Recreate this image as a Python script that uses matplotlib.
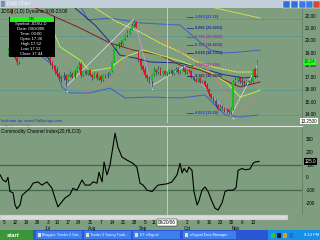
import matplotlib

matplotlib.use("Agg")
import matplotlib.pyplot as plt  # noqa: E402
from matplotlib.patches import Rectangle  # noqa: E402
from matplotlib.transforms import blended_transform_factory  # noqa: E402

plt.rcParams["font.family"] = ["Liberation Sans", "DejaVu Sans"]

# ---- data: x = trading-day index counted from 1 Jun 2006 (first bar is day 4) ----
FIRST_DAY = 4
opens = [
    18.9, 19.2, 19.0, 18.8, 18.6, 18.2,
    18.7, 19.0, 19.3, 19.0, 19.2, 19.4, 19.1, 18.9, 19.1, 19.3,
    19.0, 18.9, 18.8, 18.6, 18.2, 17.9, 17.5, 17.3, 17.0, 16.9,
    17.2, 16.8, 17.1, 17.3, 17.0, 17.5, 17.8, 18.1, 17.2, 17.5,
    17.3, 17.6, 17.2, 17.0, 17.3, 16.9, 17.1, 16.8, 17.2, 17.0,
    17.3, 17.5, 18.3, 19.3, 19.6, 19.8, 19.7, 20.1, 20.4, 20.6,
    20.9, 21.3, 21.5, 19.0, 18.4, 17.9, 17.6, 17.2, 16.9, 16.7,
    17.2, 17.6, 17.4, 17.7, 17.3, 17.5, 17.36, 17.44, 17.6, 17.3,
    17.5, 17.7, 17.4, 17.6, 17.7, 17.4, 17.6, 17.5, 17.0, 16.8,
    16.7, 16.9, 16.6, 16.7, 16.4, 16.0, 15.6, 15.3, 15.1, 14.7,
    14.4, 14.6, 14.5, 14.4, 14.3, 14.2, 14.4, 16.6, 16.8, 16.9,
    16.7, 16.6, 16.5, 16.7, 16.6, 16.7, 17.7, 17.1,
]
highs = [
    19.4, 19.3, 19.1, 18.9, 18.7, 18.8,
    19.1, 19.4, 19.4, 19.3, 19.6, 19.5, 19.2, 19.2, 19.4, 19.4,
    19.1, 19.0, 18.9, 18.7, 18.3, 18.0, 17.8, 17.4, 17.2, 17.4,
    17.3, 17.3, 17.5, 17.4, 17.6, 17.9, 18.2, 18.2, 17.6, 17.6,
    17.7, 17.7, 17.3, 17.4, 17.4, 17.2, 17.2, 17.3, 17.3, 17.4,
    17.5, 18.3, 19.4, 19.7, 19.9, 20.0, 20.1, 20.5, 20.8, 21.0,
    21.4, 21.72, 21.6, 19.2, 18.6, 18.0, 17.8, 17.3, 17.1, 17.3,
    17.8, 17.7, 17.9, 17.8, 17.6, 17.6, 17.52, 17.7, 17.65, 17.6,
    17.8, 17.8, 17.7, 17.9, 17.8, 17.7, 17.7, 17.6, 17.1, 17.0,
    17.0, 17.0, 16.8, 16.8, 16.5, 16.1, 15.7, 15.5, 15.2, 14.8,
    14.8, 14.7, 14.6, 14.5, 14.4, 14.6, 16.8, 17.0, 17.1, 17.0,
    16.9, 16.8, 16.8, 16.8, 16.9, 17.7, 17.8, 18.4,
]
lows = [
    18.8, 18.9, 18.7, 18.5, 18.0, 18.1,
    18.6, 18.9, 18.9, 18.9, 19.1, 19.0, 18.8, 18.8, 19.0, 18.9,
    18.8, 18.6, 18.4, 18.0, 17.7, 17.3, 17.1, 16.8, 16.6, 16.8,
    16.2, 16.7, 17.0, 16.9, 16.9, 17.4, 17.7, 17.0, 17.1, 17.2,
    17.2, 17.1, 16.8, 16.9, 16.8, 16.8, 16.6, 16.7, 16.9, 16.9,
    17.2, 17.4, 18.2, 19.2, 19.4, 19.5, 19.6, 20.0, 20.3, 20.5,
    20.8, 21.1, 21.0, 18.2, 17.7, 17.4, 17.0, 16.7, 16.5, 16.3,
    17.1, 17.2, 17.3, 17.2, 17.2, 17.2, 17.12, 17.3, 17.2, 17.2,
    17.4, 17.3, 17.3, 17.5, 17.3, 17.3, 17.4, 16.9, 16.7, 16.6,
    16.6, 16.5, 16.5, 16.3, 15.9, 15.5, 15.2, 15.0, 14.6, 14.3,
    14.3, 14.3, 14.2, 14.1, 14.0, 13.89, 14.3, 16.4, 16.6, 16.5,
    16.4, 16.3, 16.4, 16.5, 16.5, 16.6, 16.9, 17.0,
]
closes = [
    19.2, 19.0, 18.8, 18.6, 18.2, 18.7,
    19.0, 19.3, 19.0, 19.2, 19.4, 19.1, 18.9, 19.1, 19.3, 19.0,
    18.9, 18.8, 18.6, 18.2, 17.9, 17.5, 17.3, 17.0, 16.9, 17.2,
    16.8, 17.1, 17.3, 17.0, 17.5, 17.8, 18.0, 17.2, 17.5, 17.3,
    17.6, 17.2, 17.0, 17.3, 16.9, 17.1, 16.8, 17.2, 17.0, 17.3,
    17.4, 18.2, 19.3, 19.5, 19.8, 19.7, 20.0, 20.4, 20.6, 20.8,
    21.2, 21.5, 21.1, 18.4, 17.9, 17.6, 17.2, 16.9, 16.7, 17.2,
    17.6, 17.4, 17.7, 17.3, 17.5, 17.3, 17.44, 17.6, 17.3, 17.5,
    17.7, 17.4, 17.6, 17.7, 17.4, 17.6, 17.5, 17.0, 16.8, 16.7,
    16.9, 16.6, 16.7, 16.4, 16.0, 15.6, 15.3, 15.1, 14.7, 14.4,
    14.6, 14.5, 14.4, 14.3, 14.2, 14.4, 16.6, 16.8, 16.9, 16.7,
    16.6, 16.5, 16.7, 16.6, 16.7, 17.6, 17.1, 18.2,
]
days = list(range(FIRST_DAY, FIRST_DAY + len(closes)))

# overlay studies as (day, price) anchor points
upper_band_d = [36.5, 40.1, 50.1, 63.7, 81.9, 88.7, 95.5, 102.3, 109.1, 118.2]
upper_band_p = [22.87, 21.65, 21.81, 21.41, 21.24, 20.19, 19.21, 18.97, 19.05, 19.21]
lower_band_d = [18.3, 25.1, 28.3, 31.9, 41.0, 50.1, 56.9, 68.2, 81.9, 93.2, 97.7, 102.3, 109.1, 117.2]
lower_band_p = [18.8, 17.83, 16.2, 15.72, 15.72, 16.12, 15.31, 15.39, 15.31, 15.55, 14.74, 13.93, 13.76, 13.93]
blue_ma_d = [34.2, 43.3, 50.1, 54.6, 61.4, 68.2, 81.9, 90.9, 102.3, 111.3, 117.2]
blue_ma_p = [22.63, 21.24, 19.86, 18.80, 18.56, 18.24, 18.15, 17.75, 17.18, 16.93, 17.10]
red_ma_d = [15.2, 36.5, 50.1, 60.5, 72.8, 81.9, 90.9, 100.0, 109.1, 118.2]
red_ma_p = [22.71, 21.0, 19.78, 19.21, 18.80, 17.99, 17.59, 16.93, 16.20, 16.61]
yellow_ma_d = [43.3, 53.3, 63.7, 72.8, 81.9, 89.6, 98.6, 107.7, 117.2]
yellow_ma_p = [22.63, 21.49, 20.67, 19.78, 19.05, 18.24, 17.75, 17.42, 17.42]
olive_ma_d = [97.7, 118.2]
olive_ma_p = [22.63, 21.81]
lime_ma_d = [25.1, 27.4, 36.5, 41.0, 50.1, 56.0, 65.1, 72.8, 81.9, 95.5, 103.2, 109.1, 115.0, 118.2]
lime_ma_p = [20.43, 19.46, 18.40, 17.50, 17.75, 18.56, 19.21, 18.80, 18.32, 17.42, 16.53, 15.39, 15.72, 15.96]
sar_segments = [
    ([11.5, 20.6, 27.4, 31.9], [21.65, 20.02, 18.80, 18.24]),
    ([36.5, 45.6, 52.4, 56.9, 60.1], [15.80, 16.12, 16.93, 18.40, 19.78]),
    ([62.8, 72.8, 81.9, 88.7, 95.5, 100.9, 104.5], [21.41, 20.19, 19.05, 18.56, 17.42, 16.12, 15.31]),
    ([107.3, 111.3, 117.2], [13.68, 14.50, 15.55]),
]
zigzag_up = [([30, 61], [16.2, 21.72]), ([69, 84], [16.3, 17.9]), ([105, 117], [13.89, 18.0])]
zigzag_down = [([61, 69], [21.72, 16.3]), ([84, 105], [17.9, 13.89])]
swing_low_d = [30.5, 69, 106]
swing_low_p = [15.85, 16.0, 13.65]

fib_labels = ["1.000 (21.72)", "0.886 (20.8262)", "0.786 (20.0422)", "0.707 (19.4229)",
              "0.618 (18.7351)", "0.500 (17.805)", "0.382 (16.8849)", "0.000 (13.89)"]
fib_levels = [21.72, 20.8262, 20.0422, 19.4229, 18.7351, 17.805, 16.8849, 13.89]
fib_colors = ["#1f3fc0", "#1f2f9a", "#c020c0", "#6a2a8a", "#1a2a7a", "#b030b0", "#2a2a6a", "#1f3fc0"]
level_lines = [21.72, 20.35, 15.96, 13.89]

cci_d = [0.2, 1.5, 2.9, 3.8, 4.7, 6.1, 7.0, 7.9, 9.3, 10.2, 11.5, 13.8, 15.2, 17.4, 19.2, 21.5,
         23.8, 25.1, 26.5, 28.3, 29.7, 31.9, 33.3, 35.1, 37.4, 38.8, 41.0, 42.4, 44.2, 45.1, 46.5,
         47.4, 48.7, 50.1, 52.4, 53.7, 55.5, 57.8, 60.5, 62.3, 63.7, 65.1, 66.9, 69.2, 70.5, 71.9,
         76.0, 78.2, 80.5, 81.9, 82.8, 83.7, 85.0, 85.9, 87.3, 88.2, 89.6, 90.5, 91.8, 93.2, 94.6,
         96.4, 97.7, 99.1, 100.9, 102.3, 103.6, 105.9, 107.3, 108.2, 110.0, 111.3, 113.6, 115.0,
         115.9, 117.7]
cci_v = [20, -20, -35, 0, -110, -120, -215, -245, -215, -140, -120, -85, -45, -35, -60, -35,
         -85, -160, -230, -190, -160, -135, -85, -100, -20, -60, -60, -35, -45, 40, -35,
         120, 20, 95, 345, 235, 160, 135, 110, 80, -45, -60, -100, -110, -85, -60,
         -50, -35, 20, 110, 35, 70, 40, 80, 55, -110, -215, -180, -100, -75, -110,
         -190, -240, -255, -200, -110, -100, -100, -80, 55, 70, 60, 65, 110,
         120, 125]

price_ticks = [22, 21, 20, 19, 18, 17, 16, 15, 14]
cci_ticks = [300, 200, 100, 0, -100, -200]
# Monday tick labels; 18 and 25 Sep sit under the cursor date box and are not shown
tick_days = [2, 7, 12, 17, 22, 26, 31, 36, 41, 46, 51, 56, 61, 66, 70, 85, 90, 95, 100, 105, 110, 115]
tick_labels = ["5", "12", "19", "26", "3", "10", "17", "24", "31", "7", "14", "21", "28", "5", "11",
               "2", "9", "16", "23", "30", "6", "13"]
month_days = [22, 42, 65, 85, 107]
month_names = ["Jul", "Aug", "Sep", "Oct", "Nov"]
cursor_day = 76
cursor_date = "09/20/06"
info_rows = ["Symbol: JDSU,D", "Date: 09/20/06", "Time: 00:00", "Open 17.36",
             "High 17.52", "Low 17.12", "Close 17.44"]
taskbar_items = ["Blogger: Trader 2 Swi...", "Trader 2 Swing Tradi...", "ET eSignal", "eSignal Data Manager"]

# ---- layout (screen pixels of the 320x240 screenshot) ----
W, H = 320, 240
BG = "#7f9e7f"


def frect(x0, y0, x1, y1):
    return [x0 / W, 1 - y1 / H, (x1 - x0) / W, (y1 - y0) / H]


def box(fig, x0, y0, x1, y1, color, **kw):
    fig.add_artist(Rectangle((x0 / W, 1 - y1 / H), (x1 - x0) / W, (y1 - y0) / H,
                             transform=fig.transFigure, facecolor=color, edgecolor=kw.pop("ec", "none"),
                             lw=kw.pop("lw", 0), zorder=kw.pop("zorder", 10), **kw))


def ftext(fig, x, y, s, **kw):
    kw.setdefault("fontsize", 3.3)
    kw.setdefault("va", "center")
    kw.setdefault("zorder", 12)
    fig.text(x / W, 1 - y / H, s, **kw)


fig = plt.figure(figsize=(3.2, 2.4), dpi=100, facecolor=BG)
ax = fig.add_axes(frect(0, 8, 302, 123), facecolor=BG)
axc = fig.add_axes(frect(0, 127, 302, 214), facecolor=BG)
XLIM = (0.19, 137.2)

# ---- price panel ----
for lv in level_lines:
    ax.axhline(lv, color="#5a9690", lw=0.6, zorder=1)
ax.plot(upper_band_d, upper_band_p, color="#3f5fc8", lw=0.7, zorder=2)
ax.plot(lower_band_d, lower_band_p, color="#3f5fc8", lw=0.7, zorder=2)
ax.plot(blue_ma_d, blue_ma_p, color="#1c2c8c", lw=0.7, zorder=2)
ax.plot(red_ma_d, red_ma_p, color="#8a1c1c", lw=0.7, zorder=2)
ax.plot(yellow_ma_d, yellow_ma_p, color="#e6e64a", lw=0.8, ls=(0, (2, 0.6)), zorder=2)
ax.plot(olive_ma_d, olive_ma_p, color="#d8d850", lw=0.7, zorder=2)
ax.plot(lime_ma_d, lime_ma_p, color="#b8f040", lw=0.7, zorder=2)
for sd, sp in sar_segments:
    ax.plot(sd, sp, color="#e07a6a", lw=0.7, ls=(0, (0.6, 1.6)), dash_capstyle="round", zorder=2)
for zd, zp in zigzag_up:
    ax.plot(zd, zp, color="#d8d8d8", lw=0.6, zorder=3)
for zd, zp in zigzag_down:
    ax.plot(zd, zp, color="#e08ad8", lw=0.6, zorder=3)

ax.vlines(days, lows, highs, color="#1a2070", lw=0.45, zorder=4)
body_lo = [min(o, c) for o, c in zip(opens, closes)]
body_h = [max(abs(c - o), 0.04) for o, c in zip(opens, closes)]
body_col = ["#18c018" if c >= o else "#e01818" for o, c in zip(opens, closes)]
ax.bar(days, body_h, bottom=body_lo, width=0.8, color=body_col, lw=0, zorder=5)
ax.scatter(swing_low_d, swing_low_p, s=1.5, color="#90ff90", lw=0, zorder=6)

for lab, lv, col in zip(fib_labels, fib_levels, fib_colors):
    ax.plot([85.0, 87.9], [lv + 0.2, lv + 0.2], color=col, lw=0.6, zorder=6)
    ax.text(88.6, lv + 0.2, lab, color=col, fontsize=2.8, weight="bold", va="center", ha="left", zorder=7)

ax.axvline(cursor_day, color="#d6e2d6", lw=0.5, zorder=3)
ax.set_xlim(*XLIM)
ax.set_ylim(13.276, 22.626)
ax.set_xticks([])
ax.yaxis.tick_right()
ax.set_yticks(price_ticks, [f"{v:.2f}" for v in price_ticks])
ax.tick_params(axis="y", length=0, pad=2, labelsize=3.4, colors="black")
for side in ("top", "left", "bottom"):
    ax.spines[side].set_visible(False)
ax.spines["right"].set_color("#5d7a5d")
ax.spines["right"].set_linewidth(0.5)

ybl = blended_transform_factory(ax.transAxes, ax.transData)
ax.text(1.006, 18.24, "18.24", transform=ybl, fontsize=3.3, va="center", ha="left", color="#0a5a0a",
        bbox=dict(boxstyle="square,pad=0.15", fc="#20ff20", ec="none"), clip_on=False, zorder=8)
ax.text(0.995, 13.42, "13.2500", transform=ybl, fontsize=3.3, va="center", ha="left", color="black",
        bbox=dict(boxstyle="square,pad=0.15", fc="white", ec="none"), clip_on=False, zorder=8)

# ---- CCI panel ----
for lv in (100, -100):
    axc.axhline(lv, color="#46664b", lw=0.9, zorder=1)
axc.plot(cci_d, cci_v, color="black", lw=0.8, zorder=3)
axc.axvline(cursor_day, color="#d6e2d6", lw=0.5, zorder=2)
axc.set_xlim(*XLIM)
axc.set_ylim(-285.9, 393.8)
axc.set_xticks([])
axc.yaxis.tick_right()
axc.set_yticks(cci_ticks, [str(v) for v in cci_ticks])
axc.tick_params(axis="y", length=0, pad=3, labelsize=3.4, colors="black")
for side in ("top", "left", "bottom"):
    axc.spines[side].set_visible(False)
axc.spines["right"].set_color("#5d7a5d")
axc.spines["right"].set_linewidth(0.5)
ycbl = blended_transform_factory(axc.transAxes, axc.transData)
axc.text(1.008, cci_v[-1], f"{cci_v[-1]:.1f}", transform=ycbl, fontsize=3.3, va="center", ha="left",
         color="white", bbox=dict(boxstyle="square,pad=0.15", fc="black", ec="none"), clip_on=False, zorder=8)

# panel separator and study captions
fig.add_artist(plt.Line2D([0, 302 / W], [1 - 126 / H] * 2, transform=fig.transFigure, color="#dfe7df", lw=0.8))
ftext(fig, 1, 121.2, "Indicator by: www.FibSwings.com", color="#2030c8", fontsize=3.0)
ftext(fig, 1, 124.6, "Copyright FibSwings", color="#6a8a78", fontsize=2.3)
ftext(fig, 1, 131.5, "Commodity Channel Index(20,HLC/3)", color="black", fontsize=3.4)

# ---- date axis ----
box(fig, 0, 214.5, 288, 219.5, "#dadada", ec="#a8a8a8", lw=0.3, zorder=9)
xbl = blended_transform_factory(axc.transData, fig.transFigure)
for d, lab in zip(tick_days, tick_labels):
    fig.text(d, 1 - 222.6 / H, lab, transform=xbl, fontsize=3.3, ha="center", va="center", zorder=11)
for d, lab in zip(month_days, month_names):
    fig.text(d, 1 - 228.8 / H, lab, transform=xbl, fontsize=3.3, ha="center", va="center", zorder=11)
fig.add_artist(plt.Line2D([cursor_day, cursor_day], [1 - 214 / H, 1 - 220 / H], transform=xbl,
                          color="#d6e2d6", lw=0.5, zorder=10))
fig.text(cursor_day, 1 - 222.6 / H, cursor_date, transform=xbl, fontsize=3.3, ha="center",
         va="center", zorder=13, bbox=dict(boxstyle="square,pad=0.2", fc="white", ec="black", lw=0.3))

# ---- window title bar ----
box(fig, 0, 0, 320, 8, "#c3cedb", zorder=9)
box(fig, 1, 1.5, 5, 6.5, "#7a8fb0", zorder=10)
ftext(fig, 7, 4, "Daily Chart", color="#f4f6f8", fontsize=3.3)
for x0, col in [(283, "#2f6ee0"), (291, "#2f6ee0"), (299, "#3a78e8"), (306, "#3a78e8"), (313, "#d84a30")]:
    box(fig, x0, 1, x0 + 6.5, 8, col, ec="white", lw=0.3, zorder=10)
ftext(fig, 1, 11.5, "JDSU (1,D) Dynamic 9:00-23:00", color="black", fontsize=3.3)
box(fig, 10.5, 9.5, 12.5, 14, "#c02020", zorder=11)

# ---- cursor data window ----
box(fig, 9, 17, 55, 57, "black", zorder=14)
box(fig, 10, 17.5, 54, 21.5, "#22ee22", zorder=15)
ftext(fig, 32, 19.5, "OK", color="black", fontsize=3.0, ha="center", zorder=16)
for i, row in enumerate(info_rows):
    ftext(fig, 31, 24.3 + i * 4.9, row, color="white", fontsize=3.1, ha="center", zorder=16)

# ---- Windows taskbar ----
box(fig, 0, 230, 320, 240, "#2858d6", zorder=9)
box(fig, 0, 230, 33, 240, "#3a963a", zorder=10)
ftext(fig, 7, 235.3, "start", color="white", fontsize=4.2, style="italic", weight="bold")
for (x0, x1), lab in zip([(36, 82), (84, 131), (133, 180), (183, 236)], taskbar_items):
    box(fig, x0, 231, x1, 239, "#3d7ef0", zorder=10)
    box(fig, x0 + 1.5, 233, x0 + 5, 237, "#e8e0c8", zorder=11)
    ftext(fig, x0 + 6.5, 235, lab, color="white", fontsize=2.7)
box(fig, 268, 230, 320, 240, "#1590ea", zorder=10)
for x0, col in [(271, "#38c038"), (277, "#202020"), (283, "#d0a030"), (289, "#2070d0")]:
    box(fig, x0, 232.5, x0 + 4, 237.5, col, zorder=11)
ftext(fig, 304, 235, "9:14 PM", color="white", fontsize=2.9)

fig.savefig("out.png", dpi=100, facecolor=BG)
plt.close(fig)
